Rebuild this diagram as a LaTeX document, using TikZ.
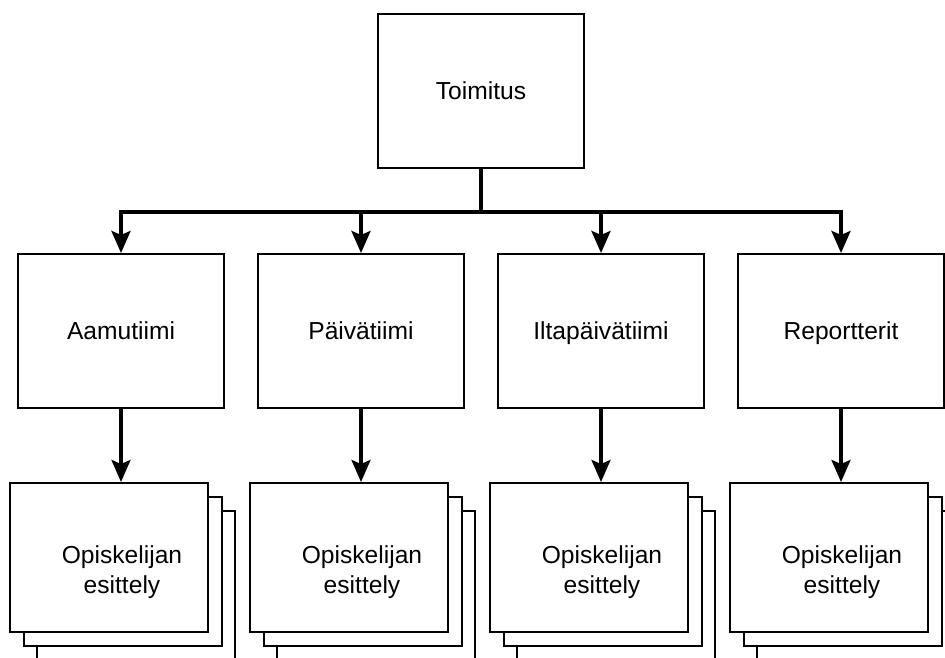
\documentclass[tikz,border=0pt]{standalone}
\usepackage{fontspec}
\setmainfont{Liberation Sans}
\usetikzlibrary{arrows.meta}
\begin{document}
\begin{tikzpicture}[x=0.5pt,y=-0.5pt,
  label font/.style={font=\fontsize{12.3}{15}\selectfont},
  box/.style={draw, line width=1pt, fill=white, minimum width=103pt,
    minimum height=77pt, inner sep=0pt, text height=8.8pt, text depth=0pt,
    label font},
  sheet/.style={draw, line width=1pt, fill=white, minimum width=99pt,
    minimum height=74.5pt, inner sep=0pt},
  caption/.style={align=center, inner sep=0pt, label font},
  arr/.style={line width=1.6pt, -{Stealth[length=11pt, width=9.5pt, inset=2pt]}},
  bus/.style={arr, line width=1.9pt}]
  \path[use as bounding box] (0,0) rectangle (945,657);
  \clip (0,0) rectangle (945,657);

  % head of the organisation
  \node[box] (top) at (481,91) {Toimitus};

  \foreach \i/\name in {0/Aamutiimi,1/Päivätiimi,2/Iltapäivätiimi,3/Reportterit}{
    % team box
    \node[box] (t\i) at ({121+240*\i},331) {\name};
    % stack of student presentation sheets, back to front
    \node[sheet] (sc\i) at ({136+240*\i},585.5) {};
    \node[sheet] (sb\i) at ({122.5+240*\i},571.5) {};
    \node[sheet] (sa\i) at ({109+240*\i},557.5) {};
    \node[caption] (lab\i) at ({122+240*\i},572) {Opiskelijan\\esittely};
    % connectors
    \draw[bus] (top.south) -- ++(0,43) -| (t\i.north);
    \draw[arr] (t\i.south) -- (t\i.south |- sa\i.north);
  }
\end{tikzpicture}
\end{document}
